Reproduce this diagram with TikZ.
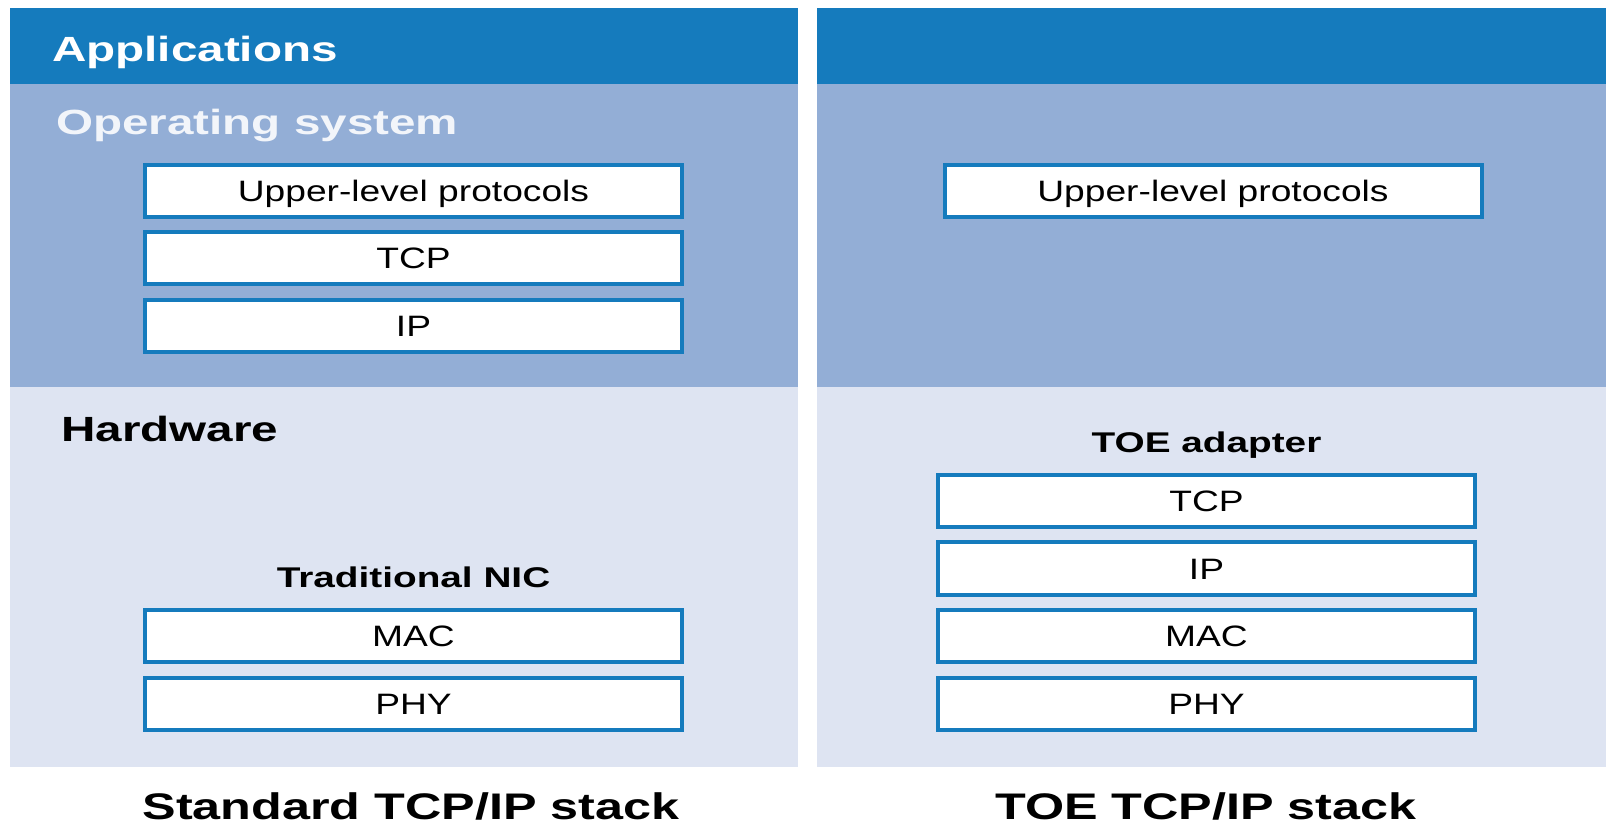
\documentclass[tikz,border=0pt]{standalone}
\usepackage{fontspec}
\setmainfont{Liberation Sans}
\newfontfamily\boxfont[FakeStretch=1.26]{Liberation Sans}
\newfontfamily\headfont[FakeStretch=1.36]{Liberation Sans}
\usepackage{tikz}
\usetikzlibrary{positioning}
\definecolor{appblue}{RGB}{21,123,189}
\definecolor{osblue}{RGB}{147,174,214}
\definecolor{hwblue}{RGB}{222,228,242}
\definecolor{oswhite}{RGB}{242,245,250}
\tikzset{
        x=1pt, y=1pt, % one unit per pixel of the picture
        node distance=11.5pt, % gap between two stacked layers
    }
\tikzstyle{layer}=[draw=appblue,line width=4pt,fill=white,minimum width=537pt,minimum height=52pt,inner sep=0pt,text height=21pt,text depth=0pt,font=\boxfont\fontsize{29.5}{31}\selectfont]
\tikzstyle{heading}=[anchor=base west,inner sep=0pt,font=\headfont\bfseries\fontsize{35}{39}\selectfont]
\tikzstyle{card}=[anchor=base,inner sep=0pt,font=\headfont\bfseries\fontsize{28.5}{30}\selectfont]
\tikzstyle{caption}=[anchor=base,inner sep=0pt,font=\headfont\bfseries\fontsize{37}{41}\selectfont]
\begin{document}
\begin{tikzpicture}
    \useasboundingbox (0,0) rectangle (1608,825);
    % the two panels
    \foreach \x/\X in {10/798, 817/1606}{
        \fill[appblue] (\x,817) rectangle (\X,741);
        \fill[osblue] (\x,741) rectangle (\X,438);
        \fill[hwblue] (\x,438) rectangle (\X,58);
    }
    \node[heading,white] (apps) at (52,763) {Applications};
    \node[heading,oswhite] (os) at (56,690) {Operating system};
    \node[heading] (hw) at (61,383) {Hardware};
    % standard stack
    \node[layer] (up1) at (413.5,634) {Upper-level protocols};
    \node[layer,below=of up1] (tcp1) {TCP};
    \node[layer,below=of tcp1] (ip1) {IP};
    \node[card] (nic) at (413.5,237) {Traditional NIC};
    \node[layer] (mac1) at (413.5,189) {MAC};
    \node[layer,below=of mac1] (phy1) {PHY};
    % offloaded stack
    \node[layer] (up2) at (1213,634) {Upper-level protocols};
    \node[card] (toe) at (1206.5,372) {TOE adapter};
    \node[layer] (tcp2) at (1206.5,324) {TCP};
    \node[layer,below=of tcp2] (ip2) {IP};
    \node[layer,below=of ip2] (mac2) {MAC};
    \node[layer,below=of mac2] (phy2) {PHY};
    \node[caption] (cap1) at (411,6) {Standard TCP/IP stack};
    \node[caption] (cap2) at (1206,6) {TOE TCP/IP stack};
\end{tikzpicture}
\end{document}
